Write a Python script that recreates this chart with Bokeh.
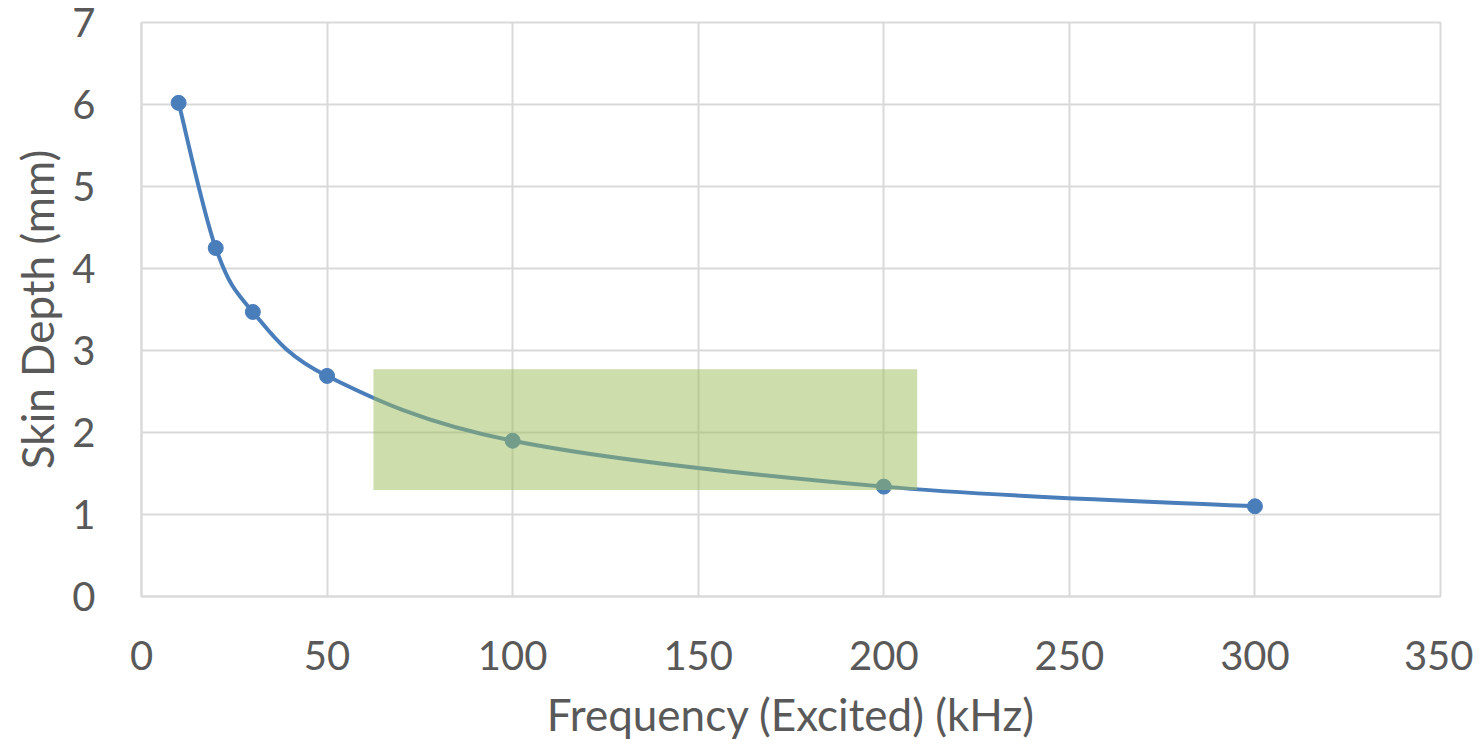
from bokeh.plotting import figure
from bokeh.models import Range1d, FixedTicker
from bokeh.embed import file_html
from bokeh.resources import INLINE

# ---- data ----
freq_khz = [10, 20, 30, 50, 100, 200, 300]
skin_depth_mm = [6.02, 4.25, 3.47, 2.69, 1.90, 1.34, 1.10]
x_ticks = [0, 50, 100, 150, 200, 250, 300, 350]
y_ticks = [0, 1, 2, 3, 4, 5, 6, 7]
highlight_x = [62.5, 209.0]
highlight_y = [1.30, 2.77]

FONT = "Lato"
TXT = "#595959"
GRID = "#d9d9d9"
BLUE = "#4a7ebb"

p = figure(width=1473, height=742, output_backend="svg", toolbar_location=None,
           x_range=Range1d(0, 350), y_range=Range1d(0, 7),
           min_border_left=141, min_border_right=33, min_border_top=22, min_border_bottom=146)
p.background_fill_color = "white"
p.border_fill_color = "white"
p.outline_line_color = GRID
p.outline_line_width = 2

# Smoothed (Excel-style) curve via cubic Bezier segments built from the data
n = len(freq_khz)
x0s, y0s, x1s, y1s, cx0, cy0, cx1, cy1 = [], [], [], [], [], [], [], []
for i in range(n - 1):
    pm = max(i - 1, 0)
    pp = min(i + 2, n - 1)
    xa, ya = freq_khz[i], skin_depth_mm[i]
    xb, yb = freq_khz[i + 1], skin_depth_mm[i + 1]
    x0s.append(xa); y0s.append(ya); x1s.append(xb); y1s.append(yb)
    cx0.append(xa + (xb - freq_khz[pm]) / 6.0)
    cy0.append(ya + (yb - skin_depth_mm[pm]) / 6.0)
    cx1.append(xb - (freq_khz[pp] - xa) / 6.0)
    cy1.append(yb - (skin_depth_mm[pp] - ya) / 6.0)

p.bezier(x0=x0s, y0=y0s, x1=x1s, y1=y1s, cx0=cx0, cy0=cy0, cx1=cx1, cy1=cy1,
         line_color=BLUE, line_width=4)
p.scatter(freq_khz, skin_depth_mm, size=15, marker="circle", fill_color=BLUE, line_color=BLUE)

p.quad(left=[highlight_x[0]], right=[highlight_x[1]], bottom=[highlight_y[0]], top=[highlight_y[1]],
       fill_color="#9bbb59", fill_alpha=0.5, line_color=None)

# grid
for g in (p.xgrid, p.ygrid):
    g.grid_line_color = GRID
    g.grid_line_width = 2
p.xaxis.ticker = FixedTicker(ticks=x_ticks)
p.yaxis.ticker = FixedTicker(ticks=y_ticks)

for ax in (p.xaxis, p.yaxis):
    ax.axis_line_color = GRID
    ax.axis_line_width = 2
    ax.major_tick_line_color = None
    ax.minor_tick_line_color = None
    ax.major_tick_out = 0
    ax.major_tick_in = 0
    ax.major_label_text_font = FONT
    ax.major_label_text_font_size = "40px"
    ax.major_label_text_color = TXT
    ax.axis_label_text_font = FONT
    ax.axis_label_text_font_size = "44px"
    ax.axis_label_text_font_style = "normal"
    ax.axis_label_text_color = TXT

p.xaxis.axis_label = "Frequency (Excited) (kHz)"
p.yaxis.axis_label = "Skin Depth (mm)"
p.xaxis.major_label_standoff = 44
p.xaxis.axis_label_standoff = 15
p.yaxis.major_label_standoff = 46
p.yaxis.axis_label_standoff = 6

open("out.html", "w").write(file_html(p, INLINE))
